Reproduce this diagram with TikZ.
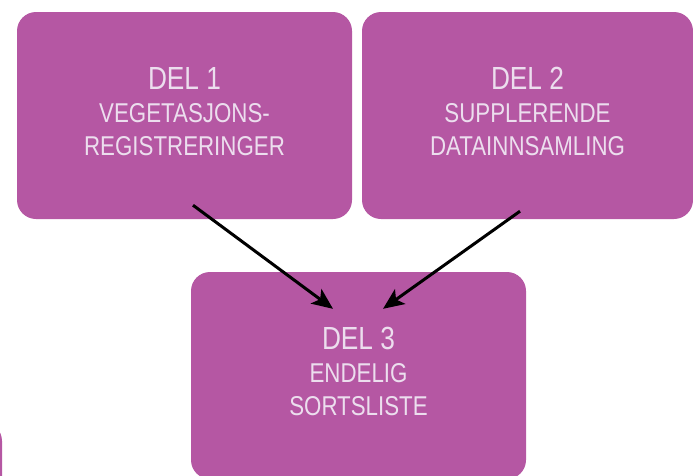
\documentclass[tikz,border=0pt]{standalone}
\usepackage{fontspec}
\setmainfont[FakeStretch=0.82]{Liberation Sans}
\usetikzlibrary{arrows.meta}

\definecolor{delpurple}{RGB}{181,87,163}
\definecolor{deltext}{RGB}{236,222,238}

\tikzset{
	delbox/.style={fill=delpurple, rounded corners=19pt, minimum width=335pt,
		minimum height=207pt, inner sep=0pt, text=deltext, align=center,
		font=\fontsize{27.2}{33}\selectfont, text depth=8pt},
	delpil/.style={-{Stealth[length=21pt,width=18pt,inset=5pt]}, line width=3pt}
}
\newcommand{\deltitle}[1]{{\fontsize{32}{33}\selectfont #1}}

\begin{document}
\begin{tikzpicture}[x=1pt,y=-1pt]
	\clip (0,0) rectangle (693,475);
	\node[delbox] (del1) at (184.5,115.5) {\deltitle{DEL 1}\\VEGETASJONS-\\REGISTRERINGER};
	\node[delbox, minimum width=331pt] (del2) at (527.5,115.5) {\deltitle{DEL 2}\\SUPPLERENDE\\DATAINNSAMLING};
	\node[delbox] (del3) at (358.5,375.5) {\deltitle{DEL 3}\\ENDELIG\\SORTSLISTE};
%	box running off the left edge
	\node[delbox] (del0) at (-165.5,525.5) {};
	% arrow ends
	\coordinate (fra1) at ([xshift=8.5pt,yshift=14pt]del1.south);
	\coordinate (til1) at ([xshift=-25.5pt,yshift=-37pt]del3.north);
	\coordinate (fra2) at ([xshift=-7.5pt,yshift=8pt]del2.south);
	\coordinate (til2) at ([xshift=24.5pt,yshift=-37pt]del3.north);
	\draw[delpil] (fra1) -- (til1);
	\draw[delpil] (fra2) -- (til2);
\end{tikzpicture}
\end{document}
